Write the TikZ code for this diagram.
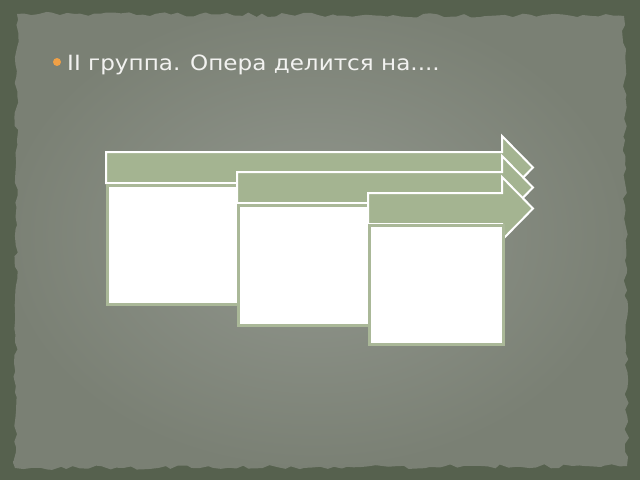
\documentclass[tikz,border=0pt]{standalone}
\usepackage{fontspec}
\setmainfont{DejaVu Sans}
\usetikzlibrary{decorations.pathmorphing}
\definecolor{outerbg}{RGB}{86,97,78}
\definecolor{paperin}{RGB}{146,151,142}
\definecolor{paperout}{RGB}{122,128,116}
\definecolor{arrowfill}{RGB}{164,180,145}
\definecolor{boxline}{RGB}{170,184,152}
\definecolor{bulletc}{RGB}{240,160,70}
\definecolor{textc}{RGB}{242,242,240}
\tikzset{
  arrowshape/.style={fill=arrowfill, draw=white, line width=2pt, line join=miter},
  boxshape/.style={fill=white, draw=boxline, line width=2.5pt, inner sep=0pt, anchor=north west},
}
\begin{document}
\begin{tikzpicture}[x=1pt,y=-1pt]
\useasboundingbox (0,0) rectangle (640,480);
\fill[outerbg] (0,0) rectangle (640,480);
\pgfmathsetseed{7}
\shade[inner color=paperin, outer color=paperout]
  decorate[decoration={random steps,segment length=7pt,amplitude=2.2pt}]
  {(17,14) -- (624,16) -- (627,466) -- (15,468) -- cycle};
% title
\fill[bulletc] (57,62) circle (4);
\node[anchor=base west, text=textc, font=\fontsize{21}{25}\selectfont, inner sep=0pt, xscale=1.1] (title) at (67,70) {II группа. Опера делится на....};
% arrow 1 and box 1
\draw[arrowshape] (106,152) -- (502,152) -- (502,136) -- (533,167.5) -- (502,199) -- (502,183) -- (106,183) -- cycle;
\node[boxshape, minimum width=134pt, minimum height=119pt] (b1) at (106,184) {};
% arrow 2 and box 2
\draw[arrowshape] (237,172) -- (502,172) -- (502,156) -- (533,187.5) -- (502,219) -- (502,203) -- (237,203) -- cycle;
\node[boxshape, minimum width=134pt, minimum height=120pt] (b2) at (237,204) {};
% arrow 3 and box 3
\draw[arrowshape] (368,193) -- (502,193) -- (502,177) -- (533,208.5) -- (502,240) -- (502,224) -- (368,224) -- cycle;
\node[boxshape, minimum width=134pt, minimum height=119pt] (b3) at (368,224) {};
\end{tikzpicture}
\end{document}
